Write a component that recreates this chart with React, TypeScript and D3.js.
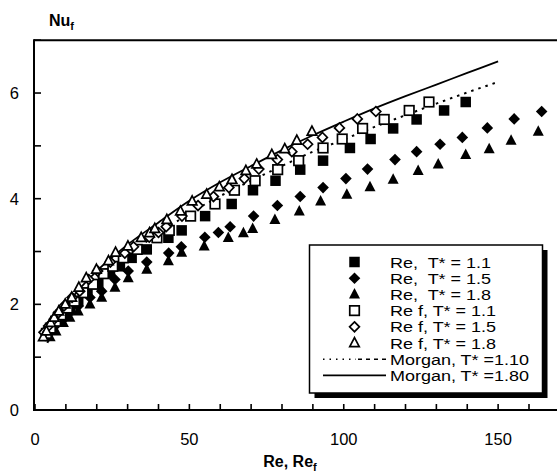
import React from 'react';
import * as d3 from 'd3';

// Re, T* = 1.1 (filled squares) and Re_f, T* = 1.1 (open squares)
const reSq = [4.0, 5.5, 7.3, 9.2, 11.5, 14.0, 17.0, 20.5, 24.3, 27.5, 31.3, 36.2, 43.2, 47.5, 55.1, 63.7, 70.6, 77.9, 85.9, 93.3, 102.0, 108.7, 116.0, 123.6, 132.5, 139.5];
const nuSq = [1.45, 1.55, 1.68, 1.80, 1.93, 2.06, 2.22, 2.38, 2.58, 2.72, 2.88, 3.04, 3.26, 3.40, 3.67, 3.90, 4.16, 4.34, 4.55, 4.72, 4.96, 5.13, 5.33, 5.50, 5.67, 5.83];
const refSq = [3.7, 5.0, 6.7, 8.4, 10.5, 12.8, 15.6, 18.8, 22.2, 25.2, 28.6, 33.1, 39.5, 43.5, 50.4, 58.3, 64.6, 71.3, 78.6, 85.4, 93.3, 99.5, 106.1, 113.1, 121.2, 127.6];

// Re, T* = 1.5 (filled diamonds) and Re_f, T* = 1.5 (open diamonds)
const reDi = [4.3, 6.5, 9.2, 11.3, 14.0, 17.8, 21.6, 25.9, 30.2, 36.2, 43.3, 47.4, 55.0, 59.4, 63.2, 70.8, 78.5, 85.9, 93.3, 100.7, 107.7, 116.6, 123.6, 131.2, 138.4, 146.5, 155.2, 164.1];
const nuDi = [1.47, 1.59, 1.72, 1.84, 1.97, 2.13, 2.25, 2.47, 2.63, 2.80, 2.97, 3.09, 3.27, 3.36, 3.47, 3.67, 3.87, 4.04, 4.21, 4.38, 4.56, 4.74, 4.89, 5.03, 5.16, 5.34, 5.51, 5.65];
const refDi = [2.9, 4.4, 6.2, 7.6, 9.4, 12.0, 14.5, 17.4, 20.3, 24.4, 29.1, 31.9, 37.0, 40.0, 42.5, 47.6, 52.8, 57.8, 62.8, 67.8, 72.5, 78.5, 83.2, 88.3, 93.1, 98.6, 104.4, 110.4];

// Re, T* = 1.8 (filled triangles) and Re_f, T* = 1.8 (open triangles)
const reTr = [4.9, 6.8, 9.2, 11.3, 14.0, 17.8, 21.6, 25.9, 30.2, 36.2, 43.2, 47.5, 54.8, 62.6, 67.5, 70.5, 77.7, 85.6, 92.5, 101.0, 108.5, 116.0, 124.1, 130.6, 139.5, 147.1, 154.2, 163.0];
const nuTr = [1.38, 1.49, 1.65, 1.75, 1.87, 2.00, 2.13, 2.32, 2.50, 2.66, 2.82, 2.98, 3.10, 3.26, 3.35, 3.43, 3.60, 3.76, 3.95, 4.08, 4.22, 4.36, 4.53, 4.65, 4.83, 4.94, 5.10, 5.27];
const refTr = [2.7, 3.7, 5.1, 6.2, 7.7, 9.8, 11.9, 14.2, 16.6, 19.9, 23.8, 26.1, 30.1, 34.4, 37.1, 38.8, 42.7, 47.1, 50.9, 55.6, 59.7, 63.8, 68.3, 71.8, 76.7, 80.9, 84.8, 89.7];

// Morgan correlation curves
const morganRe = [4, 6, 8, 10, 15, 20, 30, 40, 50, 60, 70, 80, 90, 100, 110, 120, 130, 140, 150];
const morgan110 = [1.27, 1.50, 1.69, 1.85, 2.19, 2.47, 2.94, 3.34, 3.72, 4.05, 4.34, 4.62, 4.89, 5.12, 5.36, 5.58, 5.80, 6.01, 6.21];
const morgan180 = [1.35, 1.60, 1.80, 1.97, 2.33, 2.63, 3.13, 3.55, 3.96, 4.31, 4.62, 4.92, 5.20, 5.46, 5.71, 5.94, 6.16, 6.38, 6.60];

const xTicks = [0, 10, 20, 30, 40, 50, 60, 70, 80, 90, 100, 110, 120, 130, 140, 150, 160, 170];
const xLabels = [0, 50, 100, 150];
const yTicks = [0, 1, 2, 3, 4, 5, 6, 7];
const yLabels = [0, 2, 4, 6];

const legendLabels = [
  'Re,  T* = 1.1',
  'Re,  T* = 1.5',
  'Re,  T* = 1.8',
  'Re f, T* = 1.1',
  'Re f, T* = 1.5',
  'Re f, T* = 1.8',
  'Morgan, T* =1.10',
  'Morgan, T* =1.80',
];

const FONT = "'Liberation Sans', Arial, Helvetica, sans-serif";

type Kind = 'sq' | 'di' | 'tr';

function marker(kind: Kind, filled: boolean, cx: number, cy: number, key: string) {
  const fill = filled ? '#000' : '#fff';
  const stroke = '#000';
  const sw = filled ? 0 : 1.7;
  if (kind === 'sq') {
    const s = filled ? 10.5 : 9.5;
    return <rect key={key} x={cx - s / 2} y={cy - s / 2} width={s} height={s} fill={fill} stroke={filled ? 'none' : stroke} strokeWidth={sw} />;
  }
  if (kind === 'di') {
    const r = filled ? 5.8 : 4.9;
    const p = `M${cx},${cy - r}L${cx + r},${cy}L${cx},${cy + r}L${cx - r},${cy}Z`;
    return <path key={key} d={p} fill={fill} stroke={filled ? 'none' : stroke} strokeWidth={sw} />;
  }
  const w = filled ? 11 : 9.5;
  const h = filled ? 10.5 : 9;
  const p = `M${cx},${cy - h * 0.6}L${cx + w / 2},${cy + h * 0.4}L${cx - w / 2},${cy + h * 0.4}Z`;
  return <path key={key} d={p} fill={fill} stroke={filled ? 'none' : stroke} strokeWidth={sw} strokeLinejoin="miter" />;
}

export default function App() {
  const W = 557;
  const H = 472;
  const x = d3.scaleLinear().domain([0, 170]).range([35, 35 + 170 * 3.0875]);
  const y = d3.scaleLinear().domain([0, 7]).range([410, 40.2]);

  const line = d3
    .line<[number, number]>()
    .x((d) => x(d[0]))
    .y((d) => y(d[1]))
    .curve(d3.curveMonotoneX);

  const m110 = line(morganRe.map((r, i) => [r, morgan110[i]] as [number, number])) || '';
  const m180 = line(morganRe.map((r, i) => [r, morgan180[i]] as [number, number])) || '';

  const series: { kind: Kind; filled: boolean; xs: number[]; ys: number[] }[] = [
    { kind: 'tr', filled: true, xs: reTr, ys: nuTr },
    { kind: 'di', filled: true, xs: reDi, ys: nuDi },
    { kind: 'sq', filled: true, xs: reSq, ys: nuSq },
    { kind: 'sq', filled: false, xs: refSq, ys: nuSq },
    { kind: 'di', filled: false, xs: refDi, ys: nuDi },
    { kind: 'tr', filled: false, xs: refTr, ys: nuTr },
  ];

  const legendKinds: { kind: Kind; filled: boolean }[] = [
    { kind: 'sq', filled: true },
    { kind: 'di', filled: true },
    { kind: 'tr', filled: true },
    { kind: 'sq', filled: false },
    { kind: 'di', filled: false },
    { kind: 'tr', filled: false },
  ];

  const lgX = 309.5;
  const lgY = 245;
  const lgW = 233;
  const lgH = 148;
  const rowY = (i: number) => 262 + i * 16.2;

  return (
    <svg width={W} height={H} style={{ position: 'absolute', left: 0, top: 0, background: '#fff' }} fontFamily={FONT}>
      <rect x={0} y={0} width={W} height={H} fill="#fff" />

      {/* Morgan lines (under markers) */}
      <path d={m180} fill="none" stroke="#000" strokeWidth={1.8} />
      <path d={m110} fill="none" stroke="#000" strokeWidth={2} strokeDasharray="2.5,5" />

      {/* markers */}
      {series.map((s, si) =>
        s.xs.map((v, i) => marker(s.kind, s.filled, x(v), y(s.ys[i]), `m${si}-${i}`))
      )}

      {/* frame: top and left, x axis */}
      <line x1={x(0) - 1} x2={W + 5} y1={y(7)} y2={y(7)} stroke="#000" strokeWidth={2} />
      <line x1={x(0) - 1} x2={x(0) - 1} y1={y(7) - 1} y2={y(0) + 1} stroke="#000" strokeWidth={2} />
      <line x1={x(0) - 2} x2={W + 5} y1={y(0)} y2={y(0)} stroke="#000" strokeWidth={2} />

      {/* x ticks */}
      {xTicks.map((t) => (
        <line key={`xt${t}`} x1={x(t)} x2={x(t)} y1={y(0)} y2={y(0) - 6} stroke="#000" strokeWidth={1.6} />
      ))}
      {xLabels.map((t) => (
        <text key={`xl${t}`} x={x(t)} y={445} textAnchor="middle" fontSize={16.5} fill="#000">
          {t}
        </text>
      ))}

      {/* y ticks */}
      {yTicks.map((t) => (
        <line key={`yt${t}`} x1={x(0) - 1} x2={x(0) + 6} y1={y(t)} y2={y(t)} stroke="#000" strokeWidth={1.6} />
      ))}
      {yLabels.map((t) => (
        <text key={`yl${t}`} x={19} y={y(t) + 6} textAnchor="end" fontSize={16.5} fill="#000">
          {t}
        </text>
      ))}

      {/* axis titles */}
      <text x={49} y={26} fontSize={16} fontWeight="bold" fill="#000">
        Nu<tspan fontSize={11} dy={4}>f</tspan>
      </text>
      <text x={290} y={467} textAnchor="middle" fontSize={16} fontWeight="bold" fill="#000">
        Re, Re<tspan fontSize={11} dy={4}>f</tspan>
      </text>

      {/* legend */}
      <rect x={lgX + 5} y={lgY + 5} width={lgW} height={lgH} fill="#000" />
      <rect x={lgX} y={lgY} width={lgW} height={lgH} fill="#fff" stroke="#000" strokeWidth={1.5} />
      {legendKinds.map((k, i) => marker(k.kind, k.filled, 354.5, rowY(i), `lg${i}`))}
      <line x1={323} x2={356} y1={rowY(6)} y2={rowY(6)} stroke="#000" strokeWidth={1.6} strokeDasharray="1.5,5" />
      <line x1={358} x2={386} y1={rowY(6)} y2={rowY(6)} stroke="#000" strokeWidth={1.6} strokeDasharray="4,4" />
      <line x1={323} x2={386} y1={rowY(7)} y2={rowY(7)} stroke="#000" strokeWidth={1.6} />
      {legendLabels.map((l, i) => (
        <g key={`lt${i}`} transform={`translate(390, ${rowY(i) + 5.5}) scale(1, 0.86)`}>
          <text x={0} y={0} fontSize={18} fill="#000" style={{ whiteSpace: 'pre' }}>
            {l}
          </text>
        </g>
      ))}
    </svg>
  );
}
